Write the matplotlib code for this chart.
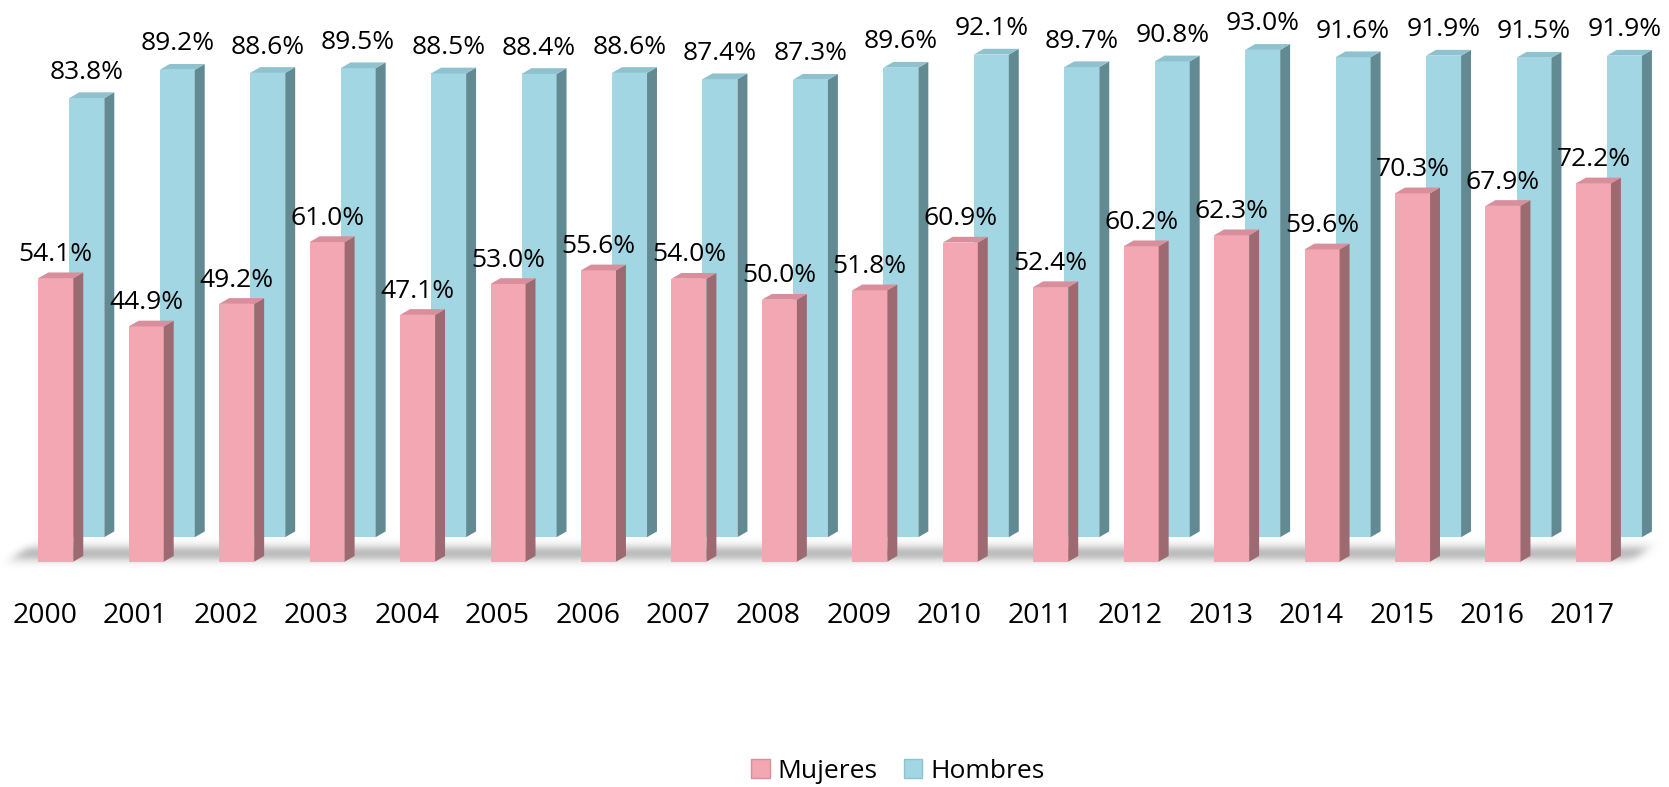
import numpy as np
import matplotlib
matplotlib.use("Agg")
import matplotlib.pyplot as plt
from matplotlib.patches import Polygon, Patch

# ---- data ----
years = ["2000", "2001", "2002", "2003", "2004", "2005", "2006", "2007", "2008",
         "2009", "2010", "2011", "2012", "2013", "2014", "2015", "2016", "2017"]
mujeres = [54.1, 44.9, 49.2, 61.0, 47.1, 53.0, 55.6, 54.0, 50.0,
           51.8, 60.9, 52.4, 60.2, 62.3, 59.6, 70.3, 67.9, 72.2]
hombres = [83.8, 89.2, 88.6, 89.5, 88.5, 88.4, 88.6, 87.4, 87.3,
           89.6, 92.1, 89.7, 90.8, 93.0, 91.6, 91.9, 91.5, 91.9]
series_names = ["Mujeres", "Hombres"]

# ---- style ----
FONT = "Open Sans"
plt.rcParams["font.family"] = [FONT, "DejaVu Sans"]

pink = dict(front="#F2A7B3", side="#9E6A72", top="#D88F9B")
blue = dict(front="#A3D6E3", side="#628A93", top="#8DC2CE")

W, H = 1669, 787
fig = plt.figure(figsize=(W / 100, H / 100), dpi=100)
ax = fig.add_axes([0, 0, 1, 1])

# layout: category spacing ~90.45 px, 5.24 px per percent
px_x, px_y = 90.45, 5.24
x0_px, base_px = 55.8, 561.7
XL = (-x0_px / px_x, (W - x0_px) / px_x)
YL = ((base_px - H) / px_y, base_px / px_y)

bw = 0.387            # bar front width (category units)
ddx, ddy = 0.11, 1.1  # 3D depth of each bar
sdx, sdy = 0.343, 4.68  # offset of back row (Hombres)

n = len(years)
x = np.arange(n)

# ---- soft floor shadow ----
y_lo, y_hi = -3.0, 6.5
gx = np.linspace(XL[0], XL[1], 900)
gy = np.linspace(y_lo, y_hi, 120)
GX, GY = np.meshgrid(gx, gy)
a_v = np.exp(-((GY - 1.5) / 1.55) ** 2)
left_edge = -0.56 + (GY + 1.0) * 0.058
right_edge = 17.40 + (GY + 1.0) * 0.053
soft = 0.12
a_h = 1 / (1 + np.exp(-(GX - left_edge) / (soft / 3))) * \
      1 / (1 + np.exp((GX - right_edge) / (soft / 3)))
img = np.zeros(GX.shape + (4,))
img[..., :3] = 0.35
img[..., 3] = 0.40 * a_v * a_h
ax.imshow(img, extent=(XL[0], XL[1], y_lo, y_hi), origin="lower",
          aspect="auto", zorder=0.5, interpolation="bilinear")


def draw_bars(xs, vals, bottom, col, z):
    bars = ax.bar(xs, vals, width=bw, bottom=bottom, color=col["front"],
                  edgecolor="none", zorder=z, align="center")
    for xi, v in zip(xs, vals):
        xl, xr = xi - bw / 2, xi + bw / 2
        b, t = bottom, bottom + v
        side = Polygon([(xr, b), (xr + ddx, b + ddy), (xr + ddx, t + ddy), (xr, t)],
                       closed=True, facecolor=col["side"], edgecolor="none", zorder=z)
        top = Polygon([(xl, t), (xl + ddx, t + ddy), (xr + ddx, t + ddy), (xr, t)],
                      closed=True, facecolor=col["top"], edgecolor="none", zorder=z)
        ax.add_patch(side)
        ax.add_patch(top)
    return bars


# back row first
draw_bars(x + sdx, hombres, sdy, blue, 2)
draw_bars(x, mujeres, 0, pink, 3)

# value labels
for xi, v in zip(x, hombres):
    ax.text(xi + sdx, sdy + v + 3.7, f"{v:.1f}%", ha="center", va="baseline",
            fontsize=19, color="black", zorder=5)
for xi, v in zip(x, mujeres):
    ax.text(xi, v + 3.3, f"{v:.1f}%", ha="center", va="baseline",
            fontsize=19, color="black", zorder=5)

# category labels
for xi, yr in zip(x, years):
    ax.text(xi - 0.12, -10.4, yr, ha="center", va="center", fontsize=20.5, color="black")

ax.set_xlim(*XL)
ax.set_ylim(*YL)
ax.axis("off")

handles = [Patch(facecolor=pink["front"], edgecolor="#D88F9B"),
           Patch(facecolor=blue["front"], edgecolor="#8DC2CE")]
fig.legend(handles, series_names, loc="center", bbox_to_anchor=(0.538, 0.020),
           ncol=2, frameon=False, fontsize=19, handlelength=0.7, handleheight=0.7,
           handletextpad=0.3, columnspacing=1.0)

fig.savefig("out.png", dpi=100, facecolor="white")
